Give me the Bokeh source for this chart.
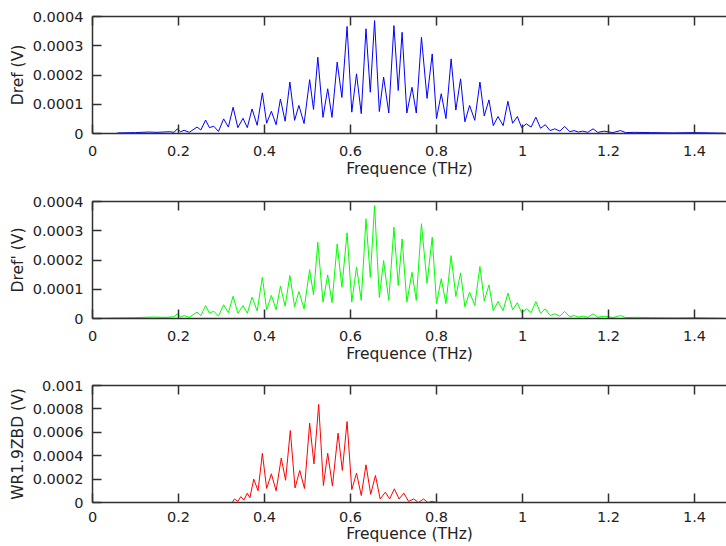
from bokeh.plotting import figure
from bokeh.layouts import column
from bokeh.models import (Range1d, LinearAxis, FixedTicker, CustomJSTickFormatter,
                          CustomLabelingPolicy)
from bokeh.embed import file_html
from bokeh.resources import INLINE

# ---- data (frequency in THz, amplitude in V) ----
f_dref = [0.055, 0.06, 0.10, 0.13, 0.15, 0.18, 0.19, 0.197, 0.205, 0.213, 0.225, 0.243, 0.252, 0.263, 0.272,
          0.282, 0.293, 0.305, 0.316, 0.327, 0.338, 0.350, 0.360, 0.371, 0.383, 0.395, 0.405, 0.416, 0.427,
          0.437, 0.448, 0.459, 0.470, 0.480, 0.492, 0.505, 0.514, 0.524, 0.536, 0.547, 0.557, 0.569, 0.580,
          0.592, 0.603, 0.614, 0.625, 0.636, 0.646, 0.656, 0.667, 0.677, 0.689, 0.701, 0.711, 0.720, 0.731,
          0.743, 0.753, 0.765, 0.778, 0.790, 0.800, 0.811, 0.822, 0.834, 0.845, 0.856, 0.866, 0.877, 0.889,
          0.901, 0.911, 0.922, 0.932, 0.943, 0.955, 0.966, 0.977, 0.988, 0.998, 1.009, 1.020, 1.031, 1.042,
          1.053, 1.064, 1.075, 1.087, 1.098, 1.110, 1.120, 1.130, 1.140, 1.152, 1.164, 1.175, 1.19, 1.21,
          1.228, 1.24, 1.26, 1.30, 1.35, 1.40, 1.47]
v_dref = [0.0, 0.000002, 0.000003, 0.000005, 0.000004, 0.000006, 0.000004, 0.000016, 0.000006, 0.000011,
          0.000004, 0.000022, 0.000012, 0.000046, 0.000020, 0.000025, 0.000007, 0.000050, 0.000022, 0.000090,
          0.000020, 0.000052, 0.000020, 0.000084, 0.000028, 0.000139, 0.000035, 0.000076, 0.000030, 0.000118,
          0.000042, 0.000176, 0.000045, 0.000096, 0.000034, 0.000184, 0.000082, 0.000261, 0.000055, 0.000153,
          0.000055, 0.000244, 0.000123, 0.000366, 0.000073, 0.000204, 0.000068, 0.000358, 0.000141, 0.000386,
          0.000075, 0.000193, 0.000070, 0.000369, 0.000147, 0.000346, 0.000070, 0.000158, 0.000070, 0.000329,
          0.000120, 0.000272, 0.000051, 0.000136, 0.000051, 0.000255, 0.000080, 0.000187, 0.000040, 0.000096,
          0.000045, 0.000176, 0.000060, 0.000115, 0.000027, 0.000058, 0.000027, 0.000110, 0.000035, 0.000058,
          0.000020, 0.000033, 0.000022, 0.000056, 0.000018, 0.000030, 0.000010, 0.000016, 0.000008, 0.000024,
          0.000006, 0.000010, 0.000005, 0.000008, 0.000004, 0.000016, 0.000004, 0.000008, 0.000003, 0.000010,
          0.000003, 0.000004, 0.000003, 0.000002, 0.000003, 0.000001]

f_drefp = [0.0, 0.05, 0.10, 0.14, 0.17, 0.19, 0.197, 0.205, 0.213, 0.225, 0.243, 0.252, 0.263, 0.272,
           0.282, 0.293, 0.305, 0.316, 0.327, 0.338, 0.350, 0.360, 0.371, 0.383, 0.395, 0.405, 0.416, 0.427,
           0.437, 0.448, 0.459, 0.470, 0.480, 0.492, 0.505, 0.514, 0.524, 0.536, 0.547, 0.557, 0.569, 0.580,
           0.592, 0.603, 0.614, 0.625, 0.636, 0.646, 0.656, 0.667, 0.677, 0.689, 0.701, 0.711, 0.720, 0.731,
           0.743, 0.753, 0.765, 0.778, 0.790, 0.800, 0.811, 0.822, 0.834, 0.845, 0.856, 0.866, 0.877, 0.889,
           0.901, 0.911, 0.922, 0.932, 0.943, 0.955, 0.966, 0.977, 0.988, 0.998, 1.009, 1.020, 1.031, 1.042,
           1.053, 1.064, 1.075, 1.087, 1.098, 1.110, 1.120, 1.130, 1.140, 1.152, 1.164, 1.175, 1.19, 1.21,
           1.228, 1.24, 1.26, 1.30, 1.35, 1.40, 1.47]
v_drefp = [0.0, 0.000002, 0.000003, 0.000005, 0.000004, 0.000006, 0.000016, 0.000005, 0.000010, 0.000004,
           0.000022, 0.000010, 0.000044, 0.000018, 0.000025, 0.000008, 0.000047, 0.000020, 0.000076, 0.000018,
           0.000044, 0.000018, 0.000073, 0.000026, 0.000141, 0.000030, 0.000079, 0.000030, 0.000110, 0.000042,
           0.000147, 0.000040, 0.000092, 0.000033, 0.000167, 0.000081, 0.000261, 0.000056, 0.000149, 0.000054,
           0.000255, 0.000107, 0.000293, 0.000056, 0.000176, 0.000062, 0.000341, 0.000141, 0.000386, 0.000072,
           0.000198, 0.000062, 0.000312, 0.000113, 0.000272, 0.000056, 0.000158, 0.000062, 0.000324, 0.000120,
           0.000278, 0.000051, 0.000136, 0.000051, 0.000215, 0.000075, 0.000156, 0.000040, 0.000090, 0.000045,
           0.000178, 0.000060, 0.000115, 0.000027, 0.000058, 0.000027, 0.000087, 0.000030, 0.000054, 0.000020,
           0.000033, 0.000020, 0.000058, 0.000018, 0.000033, 0.000010, 0.000016, 0.000008, 0.000024, 0.000006,
           0.000010, 0.000005, 0.000008, 0.000004, 0.000016, 0.000004, 0.000008, 0.000003, 0.000010, 0.000003,
           0.000004, 0.000003, 0.000002, 0.000003, 0.000001]

f_wr = [0.325, 0.33, 0.338, 0.345, 0.352, 0.360, 0.366, 0.375, 0.385, 0.395, 0.405, 0.416, 0.427, 0.439,
        0.449, 0.460, 0.471, 0.482, 0.493, 0.505, 0.515, 0.526, 0.537, 0.547, 0.558, 0.571, 0.581, 0.592,
        0.603, 0.614, 0.625, 0.636, 0.647, 0.658, 0.669, 0.681, 0.691, 0.702, 0.713, 0.724, 0.735, 0.747,
        0.758, 0.770, 0.780, 0.790, 0.800]
v_wr = [0.0, 0.00003, 0.00001, 0.00005, 0.00002, 0.00008, 0.00004, 0.000200, 0.000100, 0.000420, 0.000120,
        0.000245, 0.000100, 0.000380, 0.000190, 0.000615, 0.000125, 0.000274, 0.000120, 0.000678, 0.000330,
        0.000838, 0.000145, 0.000422, 0.000140, 0.000593, 0.000274, 0.000692, 0.000110, 0.000251, 0.000060,
        0.000322, 0.000070, 0.000231, 0.000030, 0.000088, 0.000030, 0.000117, 0.000030, 0.000080, 0.000010,
        0.000030, 0.0, 0.000030, 0.0, 0.000010, 0.0]

x_ticks = [0, 0.2, 0.4, 0.6, 0.8, 1, 1.2, 1.4]
y_ticks_dref = [0, 0.0001, 0.0002, 0.0003, 0.0004]
y_ticks_wr = [0, 0.0002, 0.0004, 0.0006, 0.0008, 0.001]

FONT = "DejaVu Sans"
AX = "#303030"
TXT = "#222222"


def style_axis(ax, ticks):
    ax.ticker = FixedTicker(ticks=ticks)
    ax.formatter = CustomJSTickFormatter(code="return String(tick)")
    ax.axis_line_color = AX
    ax.axis_line_width = 1.5
    ax.major_tick_line_color = AX
    ax.major_tick_line_width = 1.5
    ax.major_tick_in = 9
    ax.major_tick_out = 0
    ax.minor_tick_in = 0
    ax.minor_tick_out = 0
    ax.minor_tick_line_color = None
    ax.major_label_text_font = FONT
    ax.major_label_text_color = TXT
    ax.major_label_text_font_size = "14.5px"
    ax.axis_label_text_font = FONT
    ax.axis_label_text_font_size = "15.5px"
    ax.axis_label_text_font_style = "normal"
    ax.axis_label_text_color = TXT


def panel(xs, ys, color, ylabel, ymax, yticks, top, bottom, lstand, astand):
    p = figure(frame_width=634, frame_height=117,
               x_range=Range1d(0, 1.4744), y_range=Range1d(0, ymax),
               output_backend="svg", toolbar_location=None,
               min_border_left=92, min_border_right=0,
               min_border_top=top, min_border_bottom=bottom)
    p.line(xs, ys, line_color=color, line_width=1)
    p.xgrid.visible = False
    p.ygrid.visible = False
    p.outline_line_color = None
    style_axis(p.xaxis[0], x_ticks)
    p.xaxis[0].axis_label = "Frequence (THz)"
    p.xaxis[0].major_label_standoff = lstand
    p.xaxis[0].axis_label_standoff = astand
    style_axis(p.yaxis[0], yticks)
    p.yaxis[0].axis_label = ylabel
    p.yaxis[0].major_label_standoff = 9
    p.yaxis[0].axis_label_standoff = 3
    # top frame edge with inward ticks, no labels
    top_ax = LinearAxis()
    style_axis(top_ax, x_ticks)
    top_ax.major_label_standoff = 0
    top_ax.major_label_text_font_size = "1px"
    top_ax.major_label_policy = CustomLabelingPolicy(
        code="for (const i of Array.from(indices)) { indices.unset(i) }\nreturn indices")
    p.add_layout(top_ax, "above")
    return p


p1 = panel(f_dref, v_dref, "#0000ff", "Dref (V)", 0.0004, y_ticks_dref, 16, 59, 12, 1)
p2 = panel(f_drefp, v_drefp, "#00ff00", "Dref' (V)", 0.0004, y_ticks_dref, 9, 58, 12, 1)
p3 = panel(f_wr, v_wr, "#ff0000", "WR1.9ZBD (V)", 0.001, y_ticks_wr, 9, 44, 9, 0)

layout = column(p1, p2, p3, spacing=0)
open("out.html", "w").write(file_html(layout, INLINE))
